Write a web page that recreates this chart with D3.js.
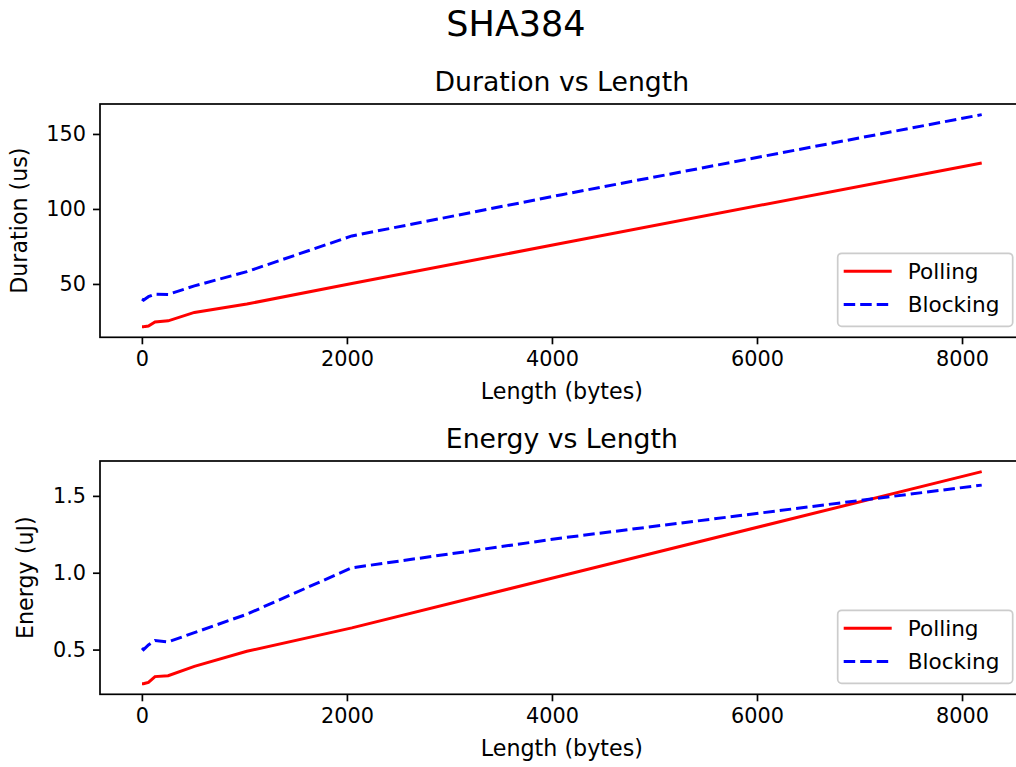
<!DOCTYPE html>
<html>
<head>
<meta charset="utf-8">
<script src="https://cdn.jsdelivr.net/npm/d3@7"></script>
<style>
  body { margin: 0; background: #fff; }
  svg { display: block; }
  text { font-family: "DejaVu Sans", sans-serif; fill: #000; }
</style>
</head>
<body>
<svg id="chart" width="1016" height="767"></svg>
<script>
// ---- data ----
const lengths = [1, 16, 32, 64, 128, 256, 512, 1024, 2048, 4096, 8192];
const pollingDuration = [21.5, 21.5, 21.7, 21.9, 24.6, 25.4, 31.0, 36.6, 50.3, 77.1, 130.7];
const blockingDuration = [39.9, 39.2, 40.0, 41.5, 43.2, 43.0, 48.7, 58.2, 82.0, 109.5, 162.9];
const pollingEnergy = [0.278, 0.278, 0.281, 0.286, 0.324, 0.330, 0.391, 0.489, 0.641, 0.980, 1.658];
const blockingEnergy = [0.510, 0.500, 0.510, 0.530, 0.559, 0.550, 0.610, 0.730, 1.032, 1.226, 1.570];
const xTicks = [0, 2000, 4000, 6000, 8000];
const durationTicks = [50, 100, 150];
const energyTicks = [0.5, 1.0, 1.5];
const seriesNames = ["Polling", "Blocking"];

const svg = d3.select("#chart");
const FS = 20.8;   // tick labels
const LFS = 22.2;  // axis labels
const GFS = 21.6;  // legend

svg.append("text")
  .attr("x", 516).attr("y", 36)
  .attr("text-anchor", "middle")
  .style("font-size", "35px")
  .text("SHA384");

function panel(opts) {
  const { top, bottom, left, right, title, ylabel, yTicks, yFmt, polling, blocking, ylabelX } = opts;
  const g = svg.append("g");
  const all = polling.concat(blocking);
  const ymin = d3.min(all), ymax = d3.max(all);
  const ym = (ymax - ymin) * 0.05;
  const xmin = d3.min(lengths), xmax = d3.max(lengths);
  const xm = (xmax - xmin) * 0.05;
  const x = d3.scaleLinear().domain([xmin - xm, xmax + xm]).range([left, right]);
  const y = d3.scaleLinear().domain([ymin - ym, ymax + ym]).range([bottom, top]);

  // lines
  const line = (vals) => d3.line().x((d, i) => x(lengths[i])).y(d => y(d))(vals);
  g.append("path").attr("d", line(polling))
    .attr("fill", "none").attr("stroke", "#ff0000").attr("stroke-width", 3);
  g.append("path").attr("d", line(blocking))
    .attr("fill", "none").attr("stroke", "#0000ff").attr("stroke-width", 3)
    .attr("stroke-dasharray", "11.5,5");

  // axes
  const xAxis = d3.axisBottom(x).tickValues(xTicks).tickFormat(d3.format("d")).tickSizeOuter(0).tickSize(7).tickPadding(7);
  const gx = g.append("g").attr("transform", `translate(0,${bottom})`).call(xAxis);
  const yAxis = d3.axisLeft(y).tickValues(yTicks).tickFormat(yFmt).tickSizeOuter(0).tickSize(7).tickPadding(7);
  const gy = g.append("g").attr("transform", `translate(${left},0)`).call(yAxis);
  [gx, gy].forEach(a => {
    a.select(".domain").remove();
    a.selectAll(".tick line").attr("stroke", "#000").attr("stroke-width", 1.7);
    a.selectAll(".tick text").style("font-size", FS + "px").attr("fill", "#000")
      .style("font-family", "'DejaVu Sans', sans-serif");
  });
  gx.selectAll(".tick text").attr("dy", "0.71em");

  // frame
  g.append("rect").attr("x", left).attr("y", top)
    .attr("width", right - left).attr("height", bottom - top)
    .attr("fill", "none").attr("stroke", "#000").attr("stroke-width", 1.7);

  // titles and labels
  g.append("text").attr("x", (left + right) / 2).attr("y", top - 13)
    .attr("text-anchor", "middle").style("font-size", "26.7px").text(title);
  g.append("text").attr("x", (left + right) / 2).attr("y", bottom + 62)
    .attr("text-anchor", "middle").style("font-size", LFS + "px").text("Length (bytes)");
  g.append("text")
    .attr("transform", `translate(${ylabelX},${(top + bottom) / 2}) rotate(-90)`)
    .attr("text-anchor", "middle").style("font-size", LFS + "px").text(ylabel);

  // legend
  const lw = 175, lh = 73;
  const lx = right - 11 - lw, ly = bottom - 11 - lh;
  const lg = g.append("g");
  lg.append("rect").attr("x", lx).attr("y", ly).attr("width", lw).attr("height", lh)
    .attr("rx", 4).attr("fill", "#fff").attr("fill-opacity", 0.8)
    .attr("stroke", "#cccccc").attr("stroke-width", 1.7);
  const rows = [
    { name: seriesNames[0], color: "#ff0000", dash: null },
    { name: seriesNames[1], color: "#0000ff", dash: "11.5,5" }
  ];
  rows.forEach((r, i) => {
    const cy = ly + 18 + i * 33.3;
    lg.append("line").attr("x1", lx + 6).attr("x2", lx + 54).attr("y1", cy).attr("y2", cy)
      .attr("stroke", r.color).attr("stroke-width", 3)
      .attr("stroke-dasharray", r.dash);
    lg.append("text").attr("x", lx + 70).attr("y", cy + 7.8)
      .style("font-size", GFS + "px").text(r.name);
  });
}

panel({
  top: 104, bottom: 337.3, left: 100, right: 1023.7,
  title: "Duration vs Length", ylabel: "Duration (us)",
  yTicks: durationTicks, yFmt: d3.format("d"),
  polling: pollingDuration, blocking: blockingDuration, ylabelX: 27.2
});
panel({
  top: 461, bottom: 694.3, left: 100, right: 1023.7,
  title: "Energy vs Length", ylabel: "Energy (uJ)",
  yTicks: energyTicks, yFmt: d3.format(".1f"),
  polling: pollingEnergy, blocking: blockingEnergy, ylabelX: 33
});
</script>
</body>
</html>
